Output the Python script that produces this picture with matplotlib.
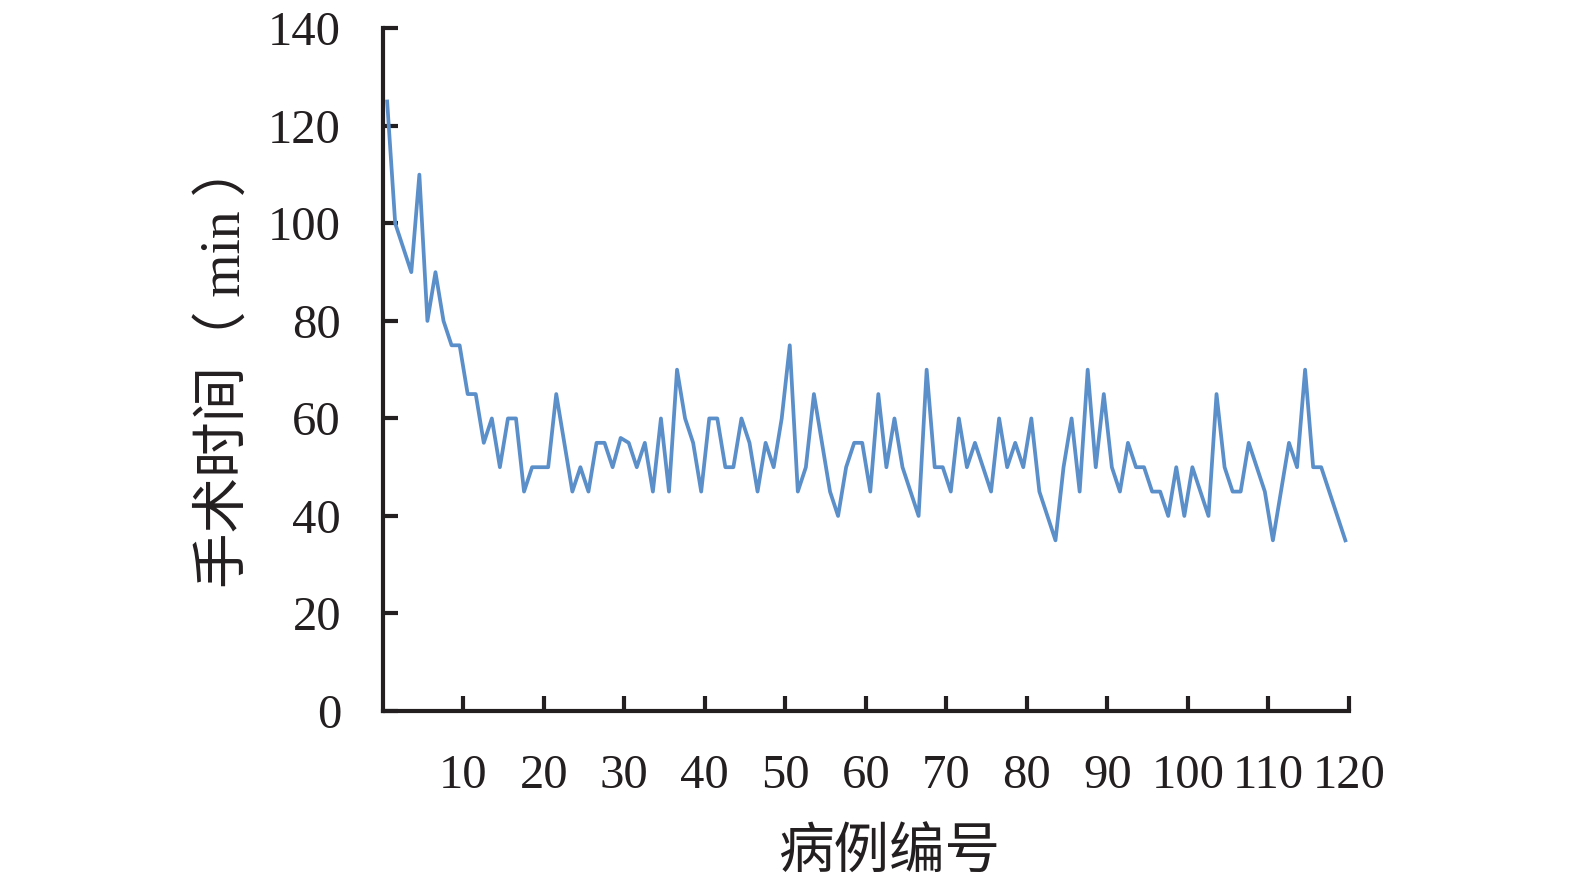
import matplotlib
matplotlib.use("Agg")
import matplotlib.pyplot as plt
import numpy as np

# case number 1..120 and operation time (min)
case_no = np.arange(1, 121)
op_time = [125, 100, 95, 90, 110, 80, 90, 80, 75, 75,
           65, 65, 55, 60, 50, 60, 60, 45, 50, 50,
           50, 65, 55, 45, 50, 45, 55, 55, 50, 56,
           55, 50, 55, 45, 60, 45, 70, 60, 55, 45,
           60, 60, 50, 50, 60, 55, 45, 55, 50, 60,
           75, 45, 50, 65, 55, 45, 40, 50, 55, 55,
           45, 65, 50, 60, 50, 45, 40, 70, 50, 50,
           45, 60, 50, 55, 50, 45, 60, 50, 55, 50,
           60, 45, 40, 35, 50, 60, 45, 70, 50, 65,
           50, 45, 55, 50, 50, 45, 45, 40, 50, 40,
           50, 45, 40, 65, 50, 45, 45, 55, 50, 45,
           35, 45, 55, 50, 70, 50, 50, 45, 40, 35]
x_ticks = np.arange(10, 121, 10)
y_ticks = np.arange(0, 141, 20)

num_font = "Liberation Serif"
cjk_fonts = ["Liberation Serif", "Noto Sans CJK SC"]

fig = plt.figure(figsize=(15.75, 8.86), dpi=100)
ax = fig.add_axes([0.243, 0.1975, 0.6135, 0.7705])

ax.plot(case_no - 0.45, op_time, color="#5b8fca", linewidth=2.7)

ax.set_xlim(0, 120)
ax.set_ylim(0, 140)
ax.set_xticks(x_ticks)
ax.set_yticks(y_ticks)

for side in ["top", "right"]:
    ax.spines[side].set_visible(False)
for side in ["left", "bottom"]:
    ax.spines[side].set_linewidth(3)
    ax.spines[side].set_color("#231f20")

ax.tick_params(direction="in", length=11, width=3, color="#231f20",
               labelsize=35, labelcolor="#231f20", pad=30)
ax.tick_params(axis="x", pad=31)
for lab in ax.get_xticklabels() + ax.get_yticklabels():
    lab.set_fontfamily(num_font)

ax.set_xlabel("病例编号", fontsize=40, family=cjk_fonts, color="#231f20")
ax.set_ylabel("手术时间（ min ）", fontsize=40, family=cjk_fonts, color="#231f20")
ax.xaxis.set_label_coords(0.524, -0.172)
ax.yaxis.set_label_coords(-0.136, 0.508)

fig.savefig("out.png", dpi=100)
